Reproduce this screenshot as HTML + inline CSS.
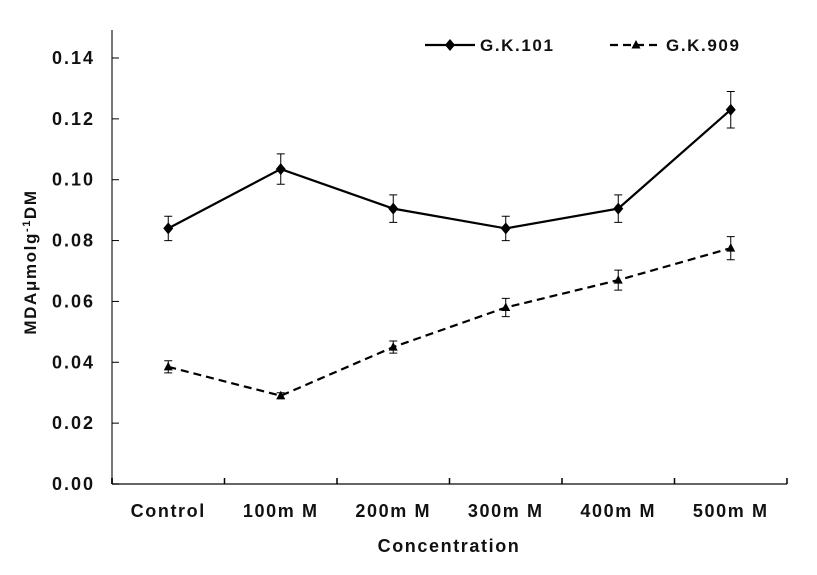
<!DOCTYPE html>
<html><head><meta charset="utf-8"><style>
body{margin:0;background:#fff;}
svg text{font-family:"Liberation Sans",Arial,sans-serif;font-weight:bold;fill:#111;letter-spacing:1.6px;}
</style></head><body>
<svg id="chart" width="817" height="570" xmlns="http://www.w3.org/2000/svg"></svg>
<script>
const categories=["Control","100m M","200m M","300m M","400m M","500m M"];
const gk101=[0.084,0.1035,0.0905,0.084,0.0905,0.123];
const gk101Err=[0.004,0.005,0.0045,0.004,0.0045,0.006];
const gk909=[0.0385,0.029,0.045,0.058,0.067,0.0775];
const gk909Err=[0.002,0.001,0.002,0.003,0.0033,0.0038];
const yTicks=[0,0.02,0.04,0.06,0.08,0.10,0.12,0.14];

const svg=document.getElementById('chart');
const NS='http://www.w3.org/2000/svg';
const X0=112,X1=787,Y0=484,Y1=58,YMAX=0.14;
const bw=(X1-X0)/categories.length;
const xs=i=>X0+bw*(i+0.5);
const ys=v=>Y0-(v/YMAX)*(Y0-Y1);
function mk(tag,a,parent){const e=document.createElementNS(NS,tag);for(const k in a)e.setAttribute(k,a[k]);(parent||svg).appendChild(e);return e;}

let e=mk('line',{x1:X0,y1:30,x2:X0,y2:Y0,stroke:'#777','stroke-width':2});


e=mk('line',{x1:X0,y1:Y0,x2:X1,y2:Y0,stroke:'#333','stroke-width':1.5});



yTicks.forEach(t=>{
  const y=ys(t);
  let l=mk('line',{x1:X0,y1:y,x2:X0+7,y2:y,stroke:'#000'});
  
  
  let tx=mk('text',{x:X0-17,y:y+6,'text-anchor':'end','font-size':18,style:'letter-spacing:2px'});
  tx.textContent=t.toFixed(2);
  
  
});
for(let i=0;i<=categories.length;i++){
  let l=mk('line',{x1:X0+bw*i,y1:Y0-6,x2:X0+bw*i,y2:Y0,stroke:'#000','stroke-width':1.5});
  
  
}
categories.forEach((c,i)=>{
  let tx=mk('text',{x:xs(i),y:517,'text-anchor':'middle','font-size':18});
  tx.textContent=c;
  
  
});
let xt=mk('text',{x:449,y:552,'text-anchor':'middle','font-size':18});
xt.textContent='Concentration';


let yt=mk('text',{x:0,y:0,'text-anchor':'middle','font-size':17,transform:'translate(36,262) rotate(-90)'});
yt.innerHTML='MDAμmolg<tspan dy="-6" font-size="11">-1</tspan><tspan dy="6">DM</tspan>';



function diamond(x,y,name){const p=mk('polygon',{points:`${x},${y-6} ${x+5},${y} ${x},${y+6} ${x-5},${y}`,fill:'#000'});}
function tri(x,y,name){const p=mk('polygon',{points:`${x},${y-5} ${x+4.5},${y+3.5} ${x-4.5},${y+3.5}`,fill:'#000'});}

function series(vals,errs,dash,marker,name){
  const pts=vals.map((v,i)=>xs(i)+','+ys(v)).join(' ');
  const pl=mk('polyline',{points:pts,fill:'none',stroke:'#000','stroke-width':2.2,'stroke-dasharray':dash});
  
  
  vals.forEach((v,i)=>{
    const x=xs(i),a=ys(v+errs[i]),b=ys(v-errs[i]);
    const g=mk('path',{d:`M${x},${a}V${b}M${x-4},${a}H${x+4}M${x-4},${b}H${x+4}`,stroke:'#000','stroke-width':1,fill:'none'});
    
    
    marker(x,ys(v),name+'-point');
  });
}
series(gk101,gk101Err,'none',diamond,'gk101');
series(gk909,gk909Err,'8,5',tri,'gk909');

let l1=mk('line',{x1:425,y1:45,x2:475,y2:45,stroke:'#000','stroke-width':2.2});


diamond(450,45,'legend-gk101-marker');
let t1=mk('text',{x:480,y:51,'font-size':17});t1.textContent='G.K.101';


let l2=mk('line',{x1:610,y1:45,x2:662,y2:45,stroke:'#000','stroke-width':2.2,'stroke-dasharray':'8,5'});


tri(636,45,'legend-gk909-marker');
let t2=mk('text',{x:666,y:51,'font-size':17});t2.textContent='G.K.909';


</script>
</body></html>
